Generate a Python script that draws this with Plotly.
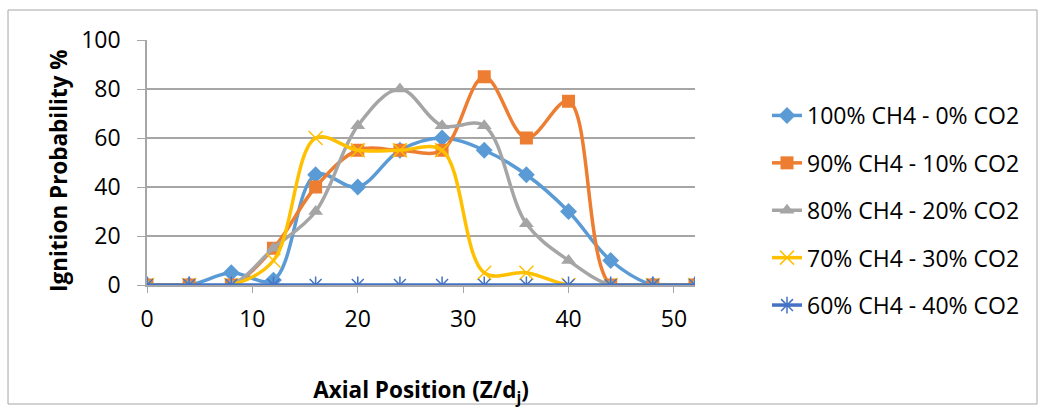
import plotly.graph_objects as go

axial = [0, 4, 8, 12, 16, 20, 24, 28, 32, 36, 40, 44, 48, 52]
ch4_100 = [0, 0, 5, 2, 45, 40, 55, 60, 55, 45, 30, 10, 0, 0]
ch4_90 = [0, 0, 0, 15, 40, 55, 55, 55, 85, 60, 75, 0, 0, 0]
ch4_80 = [0, 0, 0, 15, 30, 65, 80, 65, 65, 25, 10, 0, 0, 0]
ch4_70 = [0, 0, 0, 10, 60, 55, 55, 55, 5, 5, 0, 0, 0, 0]
ch4_60 = [0, 0, 0, 0, 0, 0, 0, 0, 0, 0, 0, 0, 0, 0]

names = ["100% CH4 - 0% CO2", "90% CH4 - 10% CO2", "80% CH4 - 20% CO2",
         "70% CH4 - 30% CO2", "60% CH4 - 40% CO2"]
series = [ch4_100, ch4_90, ch4_80, ch4_70, ch4_60]
colors = ["#5B9BD5", "#ED7D31", "#A5A5A5", "#FFC000", "#4472C4"]
symbols = ["diamond", "square", "triangle-up", "x-thin-open", "asterisk-open"]
sizes = [13, 13, 13, 14, 14]

FONT = "Open Sans"

fig = go.Figure()
for i, (nm, ys) in enumerate(zip(names, series)):
    open_sym = symbols[i].endswith("open")
    fig.add_trace(go.Scatter(
        x=axial, y=ys, name=nm, mode="lines+markers",
        legendgroup=f"g{i}",
        line=dict(color=colors[i], width=3.5, shape="spline", smoothing=1),
        marker=dict(symbol=symbols[i], size=sizes[i], color=colors[i],
                    line=dict(color=colors[i], width=1.5 if open_sym else 0)),
    ))

L, R, T, B = 147, 695, 40, 285
W, H = 1038, 408
pw, ph = R - L, B - T

fig.update_layout(
    width=W, height=H,
    margin=dict(l=L, r=W - R, t=T, b=H - B, autoexpand=False),
    paper_bgcolor="white", plot_bgcolor="white",
    font=dict(family=FONT, color="#000000", size=23),
    showlegend=True,
    legend=dict(x=(767 - L) / pw, y=1 - (94 - T) / ph, xanchor="left", yanchor="top",
                font=dict(size=23, family=FONT), tracegroupgap=14.5,
                bgcolor="rgba(0,0,0,0)"),
    xaxis=dict(range=[0, 52], tickvals=[0, 10, 20, 30, 40, 50],
               showgrid=False, zeroline=False, automargin=False,
               showline=True, linecolor="#A6A6A6", linewidth=1.5,
               ticks="outside", ticklen=6, tickcolor="#A6A6A6",
               ticklabelstandoff=7,
               tickfont=dict(size=23, family=FONT),
               title=dict(text="<b>Axial Position (Z/d<sub>j</sub>)</b>",
                          font=dict(size=22.5, family=FONT), standoff=51)),
    yaxis=dict(range=[0, 100], tickvals=[0, 20, 40, 60, 80, 100],
               showgrid=True, gridcolor="#A6A6A6", gridwidth=1.5, zeroline=False,
               automargin=False,
               showline=True, linecolor="#A6A6A6", linewidth=1.5,
               ticks="outside", ticklen=8, tickcolor="#A6A6A6",
               ticklabelstandoff=12,
               tickfont=dict(size=23, family=FONT)),
    annotations=[dict(text="<b>Ignition Probability %</b>", textangle=-90,
                      xref="paper", yref="paper",
                      x=(58 - L) / pw, y=(B - 171) / ph,
                      xanchor="center", yanchor="middle", showarrow=False,
                      font=dict(size=22.5, family=FONT, color="#000000"))],
    shapes=[dict(type="rect", xref="paper", yref="paper", layer="below",
                 x0=(8 - L) / pw, x1=(1037 - L) / pw,
                 y0=(B - 404) / ph, y1=1 + (T - 10) / ph,
                 line=dict(color="#A6A6A6", width=1))],
)

fig.write_html("out.html")
